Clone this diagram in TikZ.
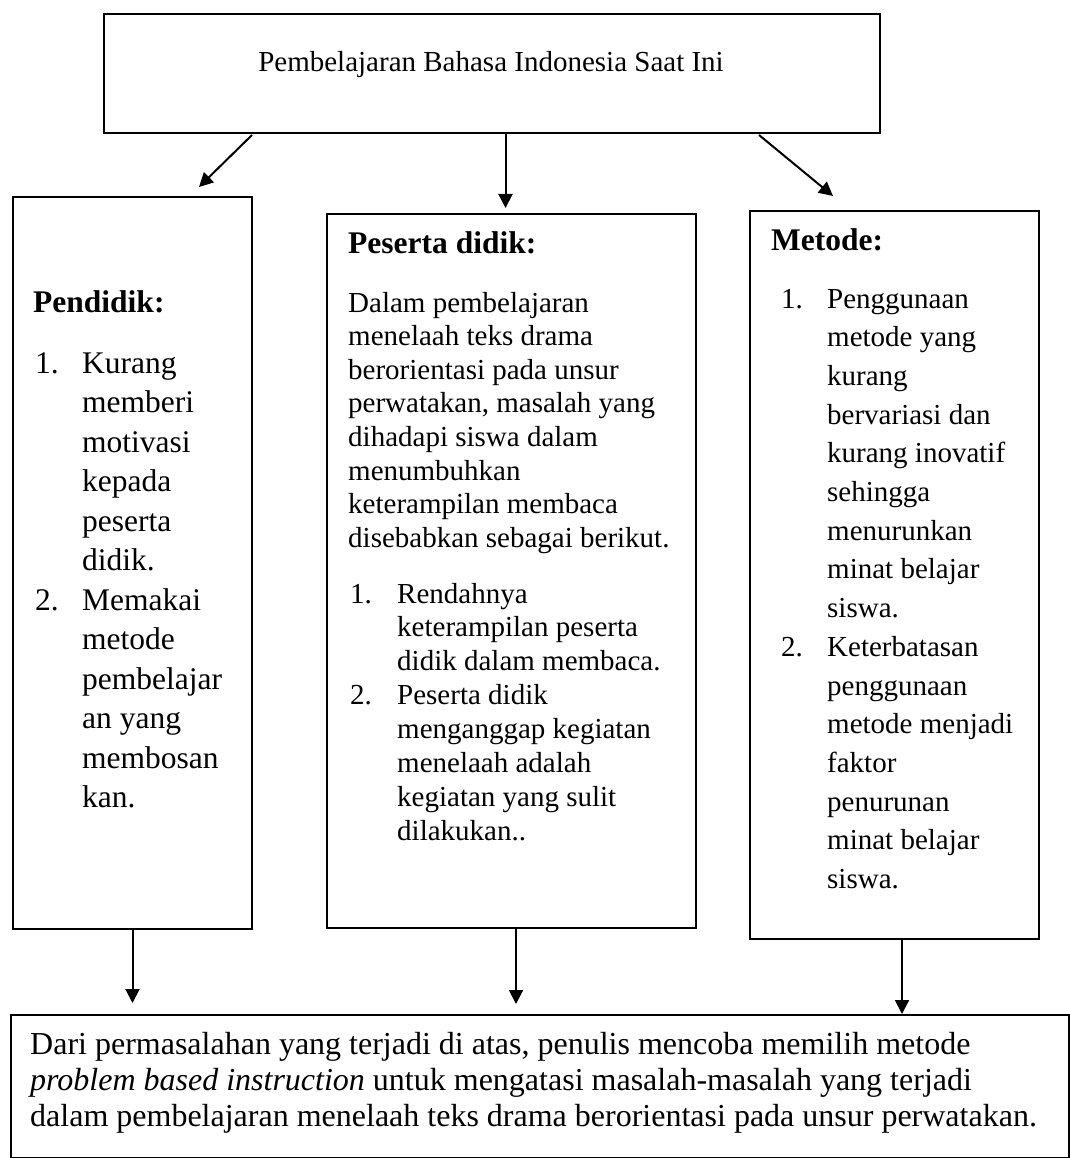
\documentclass[tikz,border=0pt]{standalone}
\usepackage{fontspec}
\setmainfont{Liberation Serif}
\usetikzlibrary{arrows.meta,calc}
\newdimen\myind
\newcommand\fsz[2]{\fontsize{#1}{#2}\selectfont}
\newcommand\Blk[2]{\vtop{\lineskiplimit=-100pt\myind=#1\relax #2}}
\newcommand\It[2]{\hbox{\hbox to\myind{#1\hfil}#2}}
\newcommand\Ln[1]{\hbox{\hskip\myind #1}}
\begin{document}
\begin{tikzpicture}[x=1pt,y=-1pt,
  box/.style={draw, line width=2pt, inner sep=0pt, anchor=north west},
  arr/.style={line width=2pt, -{Triangle[length=14pt,width=14pt]}},
  txt/.style={inner sep=0pt, anchor=base west},
  head/.style={txt, font=\fsz{31.5}{38}\bfseries},
]
\useasboundingbox (0,0) rectangle (1069,1158);

% boxes
\node[box, minimum width=776pt, minimum height=119pt] (top) at (103,13) {};
\node[box, minimum width=239pt, minimum height=732pt] (lbox) at (12,196) {};
\node[box, minimum width=369pt, minimum height=714pt] (mbox) at (326,213) {};
\node[box, minimum width=289pt, minimum height=728pt] (rbox) at (749,210) {};
\node[box, minimum width=1058pt, minimum height=143pt] (bot) at (10,1014) {};

% top text
\node[inner sep=0pt, anchor=base, font=\fsz{29}{33}] (toptext) at (491,72)
  {Pembelajaran Bahasa Indonesia Saat Ini};

% left box
\node[head] (lhead) at (33,312) {Pendidik:};
\node[txt, font=\fsz{31.5}{39.5}] (llist) at (35,373) {\Blk{47pt}{%
  \It{1.}{Kurang}
  \Ln{memberi}
  \Ln{motivasi}
  \Ln{kepada}
  \Ln{peserta}
  \Ln{didik.}
  \It{2.}{Memakai}
  \Ln{metode}
  \Ln{pembelajar}
  \Ln{an yang}
  \Ln{membosan}
  \Ln{kan.}}};

% middle box
\node[head] (mhead) at (348,253) {Peserta didik:};
\node[txt, font=\fsz{29}{33.6}] (mpar) at (348,312) {\Blk{0pt}{%
  \hbox{Dalam pembelajaran}
  \hbox{menelaah teks drama}
  \hbox{berorientasi pada unsur}
  \hbox{perwatakan, masalah yang}
  \hbox{dihadapi siswa dalam}
  \hbox{menumbuhkan}
  \hbox{keterampilan membaca}
  \hbox{disebabkan sebagai berikut.}}};
\node[txt, font=\fsz{29}{33.9}] (mlist) at (350,603) {\Blk{47pt}{%
  \It{1.}{Rendahnya}
  \Ln{keterampilan peserta}
  \Ln{didik dalam membaca.}
  \It{2.}{Peserta didik}
  \Ln{menganggap kegiatan}
  \Ln{menelaah adalah}
  \Ln{kegiatan yang sulit}
  \Ln{dilakukan..}}};

% right box
\node[head] (rhead) at (771,251) {Metode:};
\node[txt, font=\fsz{29}{38.7}] (rlist) at (781,308) {\Blk{46pt}{%
  \It{1.}{Penggunaan}
  \Ln{metode yang}
  \Ln{kurang}
  \Ln{bervariasi dan}
  \Ln{kurang inovatif}
  \Ln{sehingga}
  \Ln{menurunkan}
  \Ln{minat belajar}
  \Ln{siswa.}
  \It{2.}{Keterbatasan}
  \Ln{penggunaan}
  \Ln{metode menjadi}
  \Ln{faktor}
  \Ln{penurunan}
  \Ln{minat belajar}
  \Ln{siswa.}}};

% bottom text
\node[txt, font=\fsz{32}{36}] (btext) at (30,1054) {\Blk{0pt}{%
  \hbox{Dari permasalahan yang terjadi di atas, penulis mencoba memilih metode}
  \hbox{\textit{problem based instruction} untuk mengatasi masalah-masalah yang terjadi}
  \hbox{dalam pembelajaran menelaah teks drama berorientasi pada unsur perwatakan.}}};

% arrows from top box
\draw[arr] ([xshift=149pt,yshift=-1pt]top.south west) -- ([xshift=187pt,yshift=9pt]lbox.north west);
\coordinate (a2) at ([xshift=-6pt,yshift=5pt]mbox.north);
\draw[arr] (a2 |- top.south) -- (a2);
\draw[arr] ([xshift=-122pt,yshift=-1pt]top.south east) -- ([xshift=84pt,yshift=14pt]rbox.north west);

% arrows to bottom box
\coordinate (b1) at (lbox.south);
\draw[arr] (b1) -- ($(b1 |- bot.north)+(0,-11)$);
\coordinate (b2) at ([xshift=4.5pt]mbox.south);
\draw[arr] (b2) -- ($(b2 |- bot.north)+(0,-10)$);
\coordinate (b3) at ([xshift=7.5pt]rbox.south);
\draw[arr] (b3) -- (b3 |- bot.north);
\end{tikzpicture}
\end{document}
